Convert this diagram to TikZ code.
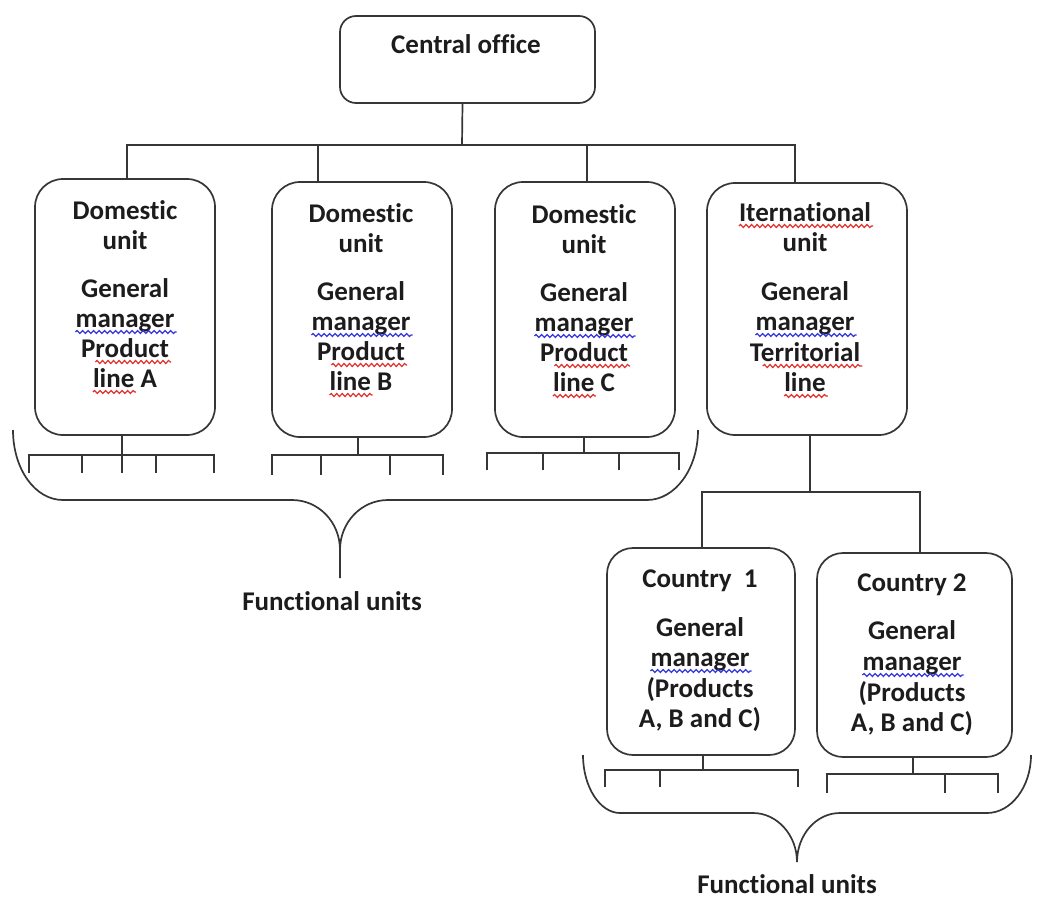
\documentclass[tikz,border=0pt]{standalone}
\usepackage{fontspec}
\setmainfont{Carlito}[Ligatures=NoCommon]
\usetikzlibrary{decorations.pathmorphing}

\definecolor{linec}{HTML}{363636}
\definecolor{txtc}{HTML}{1C1C1C}
\definecolor{spellred}{HTML}{E2302C}
\definecolor{spellblue}{HTML}{3434E0}

\tikzset{
  ln/.style={draw=linec, line width=1.7pt},
  unitbox/.style={draw=linec, line width=1.7pt, rounded corners=28pt, inner sep=0pt},
  tx/.style={font=\fontsize{27}{30}\selectfont\bfseries, text=txtc, inner sep=0pt, anchor=base},
  sq/.style={line width=1.2pt, decorate,
    decoration={snake, amplitude=1.5pt, segment length=5.5pt}},
}

% wavy proofing mark under a text line: colour, node, left offset
\newcommand\squig[3]{%
  \draw[sq,#1] ([xshift=#3,yshift=-5pt]#2.base west) -- ([xshift=2pt,yshift=-5pt]#2.base east);}
% wavy mark under the word "line" at the start of a text line
\newcommand\squigline[2]{%
  \draw[sq,#1] ([yshift=-5pt]#2.base west) -- ([xshift=43pt,yshift=-5pt]#2.base west);}

\begin{document}
\begin{tikzpicture}[x=1pt,y=-1pt]
\useasboundingbox (0,0) rectangle (1060,918);

% ---------- boxes ----------
\node[unitbox, rounded corners=16pt, minimum width=255pt, minimum height=87pt] (co) at (467.5,59.5) {};
\node[unitbox, minimum width=180pt, minimum height=256pt] (dA) at (125,307) {};
\node[unitbox, minimum width=180pt, minimum height=255pt] (dB) at (362,309.5) {};
\node[unitbox, minimum width=180pt, minimum height=255pt] (dC) at (585,309.5) {};
\node[unitbox, minimum width=200pt, minimum height=252pt] (in) at (807,309) {};
\node[unitbox, rounded corners=26pt, minimum width=188pt, minimum height=207pt] (c1) at (701,651.5) {};
\node[unitbox, rounded corners=26pt, minimum width=195pt, minimum height=204pt] (c2) at (914.5,655) {};

% ---------- box texts ----------
\node[tx] (cot) at (466,53) {Central office};

\node[tx] (a1) at (125,219) {Domestic};
\node[tx] (a2) at (125,249) {unit};
\node[tx] (a3) at (125,297) {General};
\node[tx] (a4) at (125,327) {manager};
\node[tx] (a5) at (125,357) {Product};
\node[tx] (a6) at (125,387) {line A};

\node[tx] (b1) at (361,222) {Domestic};
\node[tx] (b2) at (361,252) {unit};
\node[tx] (b3) at (361,300) {General};
\node[tx] (b4) at (361,330) {manager};
\node[tx] (b5) at (361,360) {Product};
\node[tx] (b6) at (361,390) {line B};

\node[tx] (k1) at (584,223) {Domestic};
\node[tx] (k2) at (584,253) {unit};
\node[tx] (k3) at (584,301) {General};
\node[tx] (k4) at (584,331) {manager};
\node[tx] (k5) at (584,361) {Product};
\node[tx] (k6) at (584,391) {line C};

\node[tx] (i1) at (805,221) {Iternational};
\node[tx] (i2) at (805,251) {unit};
\node[tx] (i3) at (805,300) {General};
\node[tx] (i4) at (805,330) {manager};
\node[tx] (i5) at (805,361) {Territorial};
\node[tx] (i6) at (805,391) {line};

\node[tx] (p1) at (700,587) {Country\ \ 1};
\node[tx] (p2) at (700,636) {General};
\node[tx] (p3) at (700,666) {manager};
\node[tx] (p4) at (700,697) {(Products};
\node[tx] (p5) at (700,727) {A, B and C)};

\node[tx] (q1) at (912,591) {Country 2};
\node[tx] (q2) at (912,639) {General};
\node[tx] (q3) at (912,670) {manager};
\node[tx] (q4) at (912,701) {(Products};
\node[tx] (q5) at (912,731) {A, B and C)};

\node[tx] (fu1) at (332,610) {Functional units};
\node[tx] (fu2) at (787,893) {Functional units};

% ---------- proofing marks ----------
\squig{spellblue}{a4}{0pt}  \squig{spellred}{a5}{14.4pt}  \squigline{spellred}{a6}
\squig{spellblue}{b4}{0pt}  \squig{spellred}{b5}{14.4pt}  \squigline{spellred}{b6}
\squig{spellblue}{k4}{0pt}  \squig{spellred}{k5}{14.4pt}  \squigline{spellred}{k6}
\squig{spellred}{i1}{0pt}
\squig{spellblue}{i4}{0pt}  \squig{spellred}{i5}{13.1pt}  \squig{spellred}{i6}{0pt}
\squig{spellblue}{p3}{0pt}
\squig{spellblue}{q3}{0pt}

% ---------- upper tree ----------
\coordinate (bus) at (462,145);
\draw[ln] ([xshift=-5pt]co.south) -- (bus);
\draw[ln] ([xshift=2pt]dA.north) |- ([xshift=-12pt]in.north |- bus) -- ([xshift=-12pt]in.north);
\draw[ln] ([xshift=-44pt]dB.north) -- ([xshift=-44pt]dB.north |- bus);
\draw[ln] ([xshift=2pt]dC.north) -- ([xshift=2pt]dC.north |- bus);

% ---------- functional unit stubs ----------
\draw[ln] (dA.south -| 122,0) -- (122,473);
\draw[ln] (29,473) -- (29,455) -- (214,455) -- (214,473);
\draw[ln] (82,455) -- (82,473);
\draw[ln] (156,455) -- (156,473);

\draw[ln] (dB.south -| 358,0) -- (358,455);
\draw[ln] (272,475) -- (272,455) -- (443,455) -- (443,475);
\draw[ln] (321,455) -- (321,475);
\draw[ln] (390,455) -- (390,475);

\draw[ln] (dC.south -| 584,0) -- (584,453);
\draw[ln] (487,470) -- (487,453) -- (679,453) -- (679,470);
\draw[ln] (543,453) -- (543,470);
\draw[ln] (619,453) -- (619,470);

% ---------- international branch ----------
\draw[ln] (in.south -| 810,0) -- (810,492);
\draw[ln] (c1.north -| 702,0) |- (920,492) -- (c2.north -| 920,0);

\draw[ln] (c1.south -| 703,0) -- (703,770);
\draw[ln] (605,787) -- (605,770) -- (798,770) -- (798,787);
\draw[ln] (660,770) -- (660,787);

\draw[ln] (c2.south -| 913,0) -- (913,774);
\draw[ln] (827,793) -- (827,774) -- (998,774) -- (998,793);
\draw[ln] (945,774) -- (945,793);

% ---------- braces ----------
\draw[ln] (13,430) .. controls (13,469) and (35,500) .. (63,500) -- (292,500)
  .. controls (318.5,500) and (340,522) .. (340,550) -- (340,578);
\draw[ln] (340,550) .. controls (340,522) and (361.5,500) .. (388,500) -- (647,500)
  .. controls (675,500) and (698,469) .. (698,430);

\draw[ln] (583,755) .. controls (583,787) and (600,813) .. (620,813) -- (753,813)
  .. controls (777,813) and (797,835) .. (797,862);
\draw[ln] (797,862) .. controls (797,835) and (816,813) .. (840,813) -- (987,813)
  .. controls (1011,813) and (1031,787) .. (1031,755);
\end{tikzpicture}
\end{document}
